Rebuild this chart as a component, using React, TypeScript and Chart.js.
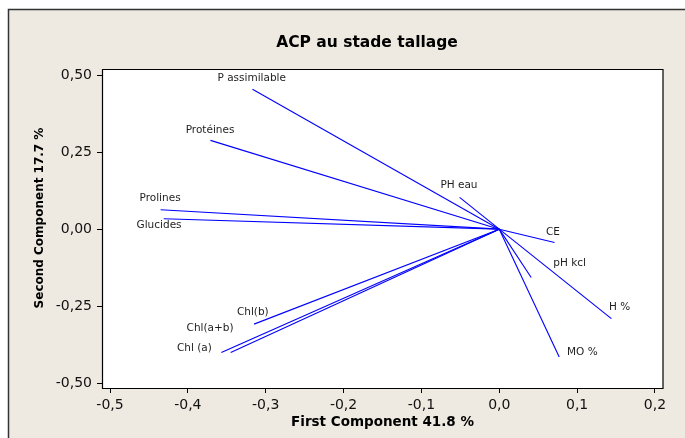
import React, { useEffect, useRef } from 'react';
import { Chart, registerables } from 'chart.js';

Chart.register(...registerables);

// ---- data ----
const variables = [
  'P assimilable',
  'Protéines',
  'Prolines',
  'Glucides',
  'PH eau',
  'CE',
  'pH kcl',
  'H %',
  'MO %',
  'Chl(b)',
  'Chl(a+b)',
  'Chl (a)',
];
const firstComponent = [-0.317, -0.371, -0.435, -0.431, -0.051, 0.071, 0.041, 0.144, 0.077, -0.315, -0.345, -0.357];
const secondComponent = [0.454, 0.288, 0.063, 0.034, 0.103, -0.043, -0.157, -0.29, -0.415, -0.308, -0.4, -0.4];
// label anchor positions (data units)
const labelX = [-0.318, -0.3715, -0.4357, -0.437, -0.0518, 0.069, 0.0904, 0.1546, 0.1067, -0.3166, -0.3715, -0.3916];
const labelY = [0.4888, 0.3211, 0.1015, 0.0139, 0.1427, -0.0088, -0.1113, -0.254, -0.4, -0.2702, -0.3221, -0.387];

const xTicks = [-0.5, -0.4, -0.3, -0.2, -0.1, 0, 0.1, 0.2];
const yTicks = [-0.5, -0.25, 0, 0.25, 0.5];
const xRange = [-0.5103, 0.2103];
const yRange = [-0.5152, 0.5195];

const chartTitle = 'ACP au stade tallage';
const xTitle = 'First Component 41.8 %';
const yTitle = 'Second Component 17.7 %';

const FONT = '"DejaVu Sans", Verdana, sans-serif';
const BEIGE = '#EEEAE1';
const LINE = '#0000FF';

const framePlugin = {
  id: 'minitabFrame',
  beforeDraw(chart: any) {
    const { ctx, width, height, chartArea } = chart;
    ctx.save();
    ctx.fillStyle = '#FFFFFF';
    ctx.fillRect(0, 0, width, height);
    ctx.fillStyle = BEIGE;
    ctx.fillRect(8, 9, width - 8, height - 9);
    ctx.strokeStyle = '#333333';
    ctx.lineWidth = 1.5;
    ctx.beginPath();
    ctx.moveTo(8.5, height);
    ctx.lineTo(8.5, 9.5);
    ctx.lineTo(width, 9.5);
    ctx.stroke();
    // plot area
    ctx.fillStyle = '#FFFFFF';
    ctx.fillRect(chartArea.left, chartArea.top, chartArea.right - chartArea.left, chartArea.bottom - chartArea.top);
    // title
    ctx.fillStyle = '#000000';
    ctx.font = `bold 15.5px ${FONT}`;
    ctx.textAlign = 'center';
    ctx.textBaseline = 'middle';
    ctx.fillText(chartTitle, 367, 43);
    // y title
    ctx.translate(40, 218);
    ctx.rotate(-Math.PI / 2);
    ctx.font = `bold 12px ${FONT}`;
    ctx.fillText(yTitle, 0, 0);
    ctx.restore();
  },
  beforeDatasetsDraw(chart: any) {
    const { ctx, chartArea } = chart;
    const { left, top, right, bottom } = chartArea;
    ctx.save();
    ctx.strokeStyle = '#000000';
    ctx.lineWidth = 1.2;
    ctx.beginPath();
    ctx.rect(left + 0.5, top + 0.5, right - left - 0.5, bottom - top);
    ctx.stroke();
    ctx.restore();
  },
  afterDatasetsDraw(chart: any) {
    const { ctx } = chart;
    const xs = chart.scales.x;
    const ys = chart.scales.y;
    ctx.save();
    ctx.fillStyle = '#1e1e1e';
    ctx.font = `10.5px ${FONT}`;
    ctx.textAlign = 'center';
    ctx.textBaseline = 'middle';
    variables.forEach((name, i) => {
      ctx.fillText(name, xs.getPixelForValue(labelX[i]), ys.getPixelForValue(labelY[i]));
    });
    ctx.restore();
  },
};

export default function App() {
  const canvasRef = useRef<HTMLCanvasElement | null>(null);

  useEffect(() => {
    if (!canvasRef.current) return;
    const datasets = variables.map((name, i) => ({
      label: name,
      data: [
        { x: 0, y: 0 },
        { x: firstComponent[i], y: secondComponent[i] },
      ],
      showLine: true,
      borderColor: LINE,
      backgroundColor: LINE,
      borderWidth: 1.1,
      pointRadius: 0,
      fill: false,
    }));

    const chart = new Chart(canvasRef.current, {
      type: 'scatter',
      data: { datasets },
      options: {
        animation: false,
        responsive: false,
        devicePixelRatio: 1,
        layout: { padding: { top: 69, right: 22, bottom: 0, left: 0 } },
        plugins: {
          legend: { display: false },
          tooltip: { enabled: false },
          title: { display: false },
        },
        scales: {
          x: {
            type: 'linear',
            min: xRange[0],
            max: xRange[1],
            afterBuildTicks: (s: any) => {
              s.ticks = xTicks.map((v) => ({ value: v }));
            },
            afterFit: (s: any) => {
              s.height = 50;
            },
            grid: { drawOnChartArea: false, drawTicks: true, tickLength: 5, tickColor: '#000000', tickWidth: 1 },
            border: { display: false },
            ticks: {
              autoSkip: false,
              maxRotation: 0,
              padding: 4,
              color: '#111111',
              font: { family: FONT, size: 14 },
              callback: (v: any) => Number(v).toFixed(1).replace('.', ','),
            },
            title: {
              display: true,
              text: xTitle,
              color: '#000000',
              font: { family: FONT, size: 13.5, weight: 'bold' },
              padding: { top: 0, bottom: 7 },
            },
          },
          y: {
            type: 'linear',
            min: yRange[0],
            max: yRange[1],
            afterBuildTicks: (s: any) => {
              s.ticks = yTicks.map((v) => ({ value: v }));
            },
            afterFit: (s: any) => {
              s.width = 102;
            },
            grid: { drawOnChartArea: false, drawTicks: true, tickLength: 5, tickColor: '#000000', tickWidth: 1 },
            border: { display: false },
            ticks: {
              autoSkip: false,
              padding: 5,
              color: '#111111',
              font: { family: FONT, size: 14 },
              callback: (v: any) => Number(v).toFixed(2).replace('.', ','),
            },
            title: { display: false },
          },
        },
      },
      plugins: [framePlugin],
    } as any);

    return () => chart.destroy();
  }, []);

  return (
    <div style={{ position: 'absolute', left: 0, top: 0, width: 685, height: 438 }}>
      <canvas ref={canvasRef} width={685} height={438} style={{ display: 'block' }} />
    </div>
  );
}
